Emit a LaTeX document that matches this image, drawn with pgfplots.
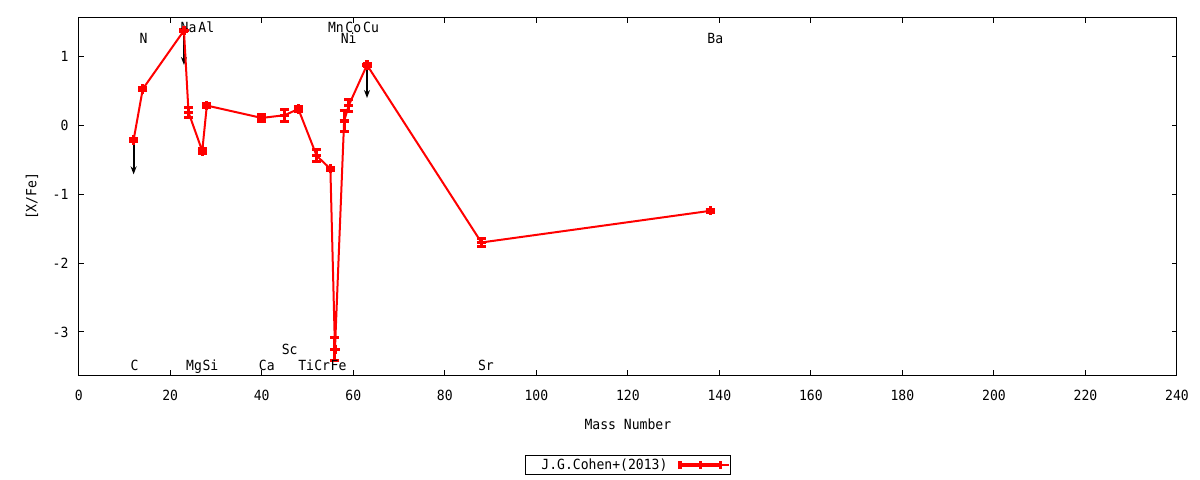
\documentclass[border=0pt]{standalone}
\usepackage{fontspec}
\setmainfont{DejaVu Sans Mono}[FakeStretch=0.935]
\usepackage{pgfplots}
\pgfplotsset{compat=1.18}
\usepackage{pgfplotstable}
\usetikzlibrary{arrows.meta}

\pgfplotstableread{
m v e
12 -0.21 0.02
14 0.53 0.02
23 1.38 0.02
24 0.19 0.075
27 -0.37 0.03
28 0.29 0.03
40 0.11 0.05
45 0.15 0.085
48 0.24 0.03
52 -0.44 0.085
55 -0.63 0.02
56 -3.25 0.17
58 0.065 0.15
59 0.29 0.085
63 0.88 0.02
88 -1.70 0.06
138 -1.24 0.02
}\abund

\pgfplotstableread{
m v u w
12 -0.21 0 -0.5
23 1.38 0 -0.5
63 0.88 0 -0.48
}\limits

\begin{document}
\fontsize{14bp}{16bp}\selectfont
\begin{tikzpicture}[font=\fontsize{14bp}{16bp}\selectfont]
\begin{axis}[
  scale only axis, width=1098.3bp, height=357.3bp,
  at={(0,0)}, anchor=south west,
  xmin=0, xmax=240, ymin=-3.626, ymax=1.567,
  xtick={0,20,40,60,80,100,120,140,160,180,200,220,240},
  xticklabels={0,20,40,60,80,100,120,140,160,180,200,220,240},
  ytick={-3,-2,-1,0,1},
  yticklabels={-3,-2,-1,0,1},
  tick align=inside, major tick length=5bp,
  axis line style={line width=1bp},
  every tick/.style={black, line width=1bp},
  every x tick label/.style={anchor=center, yshift=-20bp},
  every y tick label/.style={anchor=east, inner sep=0pt, xshift=-10bp},
  xlabel={Mass Number}, ylabel={[X/Fe]},
  every axis x label/.style={at={(axis description cs:0.5,0)}, yshift=-49bp, anchor=center},
  every axis y label/.style={at={(axis description cs:0,0.5)}, xshift=-46.7bp, rotate=90, anchor=center},
  legend plot pos=right,
  legend style={at={(axis description cs:0.5,-0.252)}, anchor=center, draw=black, line width=1bp,
    inner xsep=0pt, inner ysep=3.5bp, nodes={inner sep=0pt},
    /tikz/every odd column/.append style={column sep=9bp}},
  legend image code/.code={
    \draw[red, line width=3.5bp] (0bp,0bp) -- (44bp,0bp);
    \draw[red, line width=3.5bp] (1.7bp,-4bp) -- (1.7bp,4bp) (22bp,-4bp) -- (22bp,4bp) (42.3bp,-4bp) -- (42.3bp,4bp);
    \path (0bp,0bp) -- (51bp,0bp);
  },
  clip=false,
]
\addplot[black, line width=2bp, -{Stealth[length=8bp,width=6bp]}, quiver={u=\thisrow{u}, v=\thisrow{w}}, forget plot] table[x=m, y=v] {\limits};
\addplot[red, line width=2bp, mark=+, mark size=4.6bp, mark options={line width=3.2bp},
  error bars/.cd, y dir=both, y explicit,
  error bar style={line width=3bp},
  error mark options={rotate=90, mark size=4.5bp, line width=3bp}]
  table[x=m, y=v, y error=e] {\abund};
\addlegendentry{\hspace*{16bp}J.G.Cohen+(2013)}

\begin{scope}[every node/.style={anchor=base}]
\node at (axis cs:12.2,-3.554) {C};
\node at (axis cs:14.2,1.195) {N};
\node at (axis cs:24.0,1.352) {Na};
\node at (axis cs:27.9,1.352) {Al};
\node at (axis cs:25.2,-3.554) {Mg};
\node at (axis cs:28.8,-3.554) {Si};
\node at (axis cs:41.1,-3.554) {Ca};
\node at (axis cs:46.1,-3.335) {Sc};
\node at (axis cs:49.7,-3.554) {Ti};
\node at (axis cs:53.2,-3.554) {Cr};
\node at (axis cs:56.8,-3.554) {Fe};
\node at (axis cs:56.2,1.352) {Mn};
\node at (axis cs:60.0,1.352) {Co};
\node at (axis cs:63.9,1.352) {Cu};
\node at (axis cs:59.0,1.195) {Ni};
\node at (axis cs:89.0,-3.554) {Sr};
\node at (axis cs:139.1,1.195) {Ba};
\end{scope}
\end{axis}
\pgfresetboundingbox
\path (-78.7bp,-105bp) rectangle (1121.3bp,375bp);
\end{tikzpicture}
\end{document}
